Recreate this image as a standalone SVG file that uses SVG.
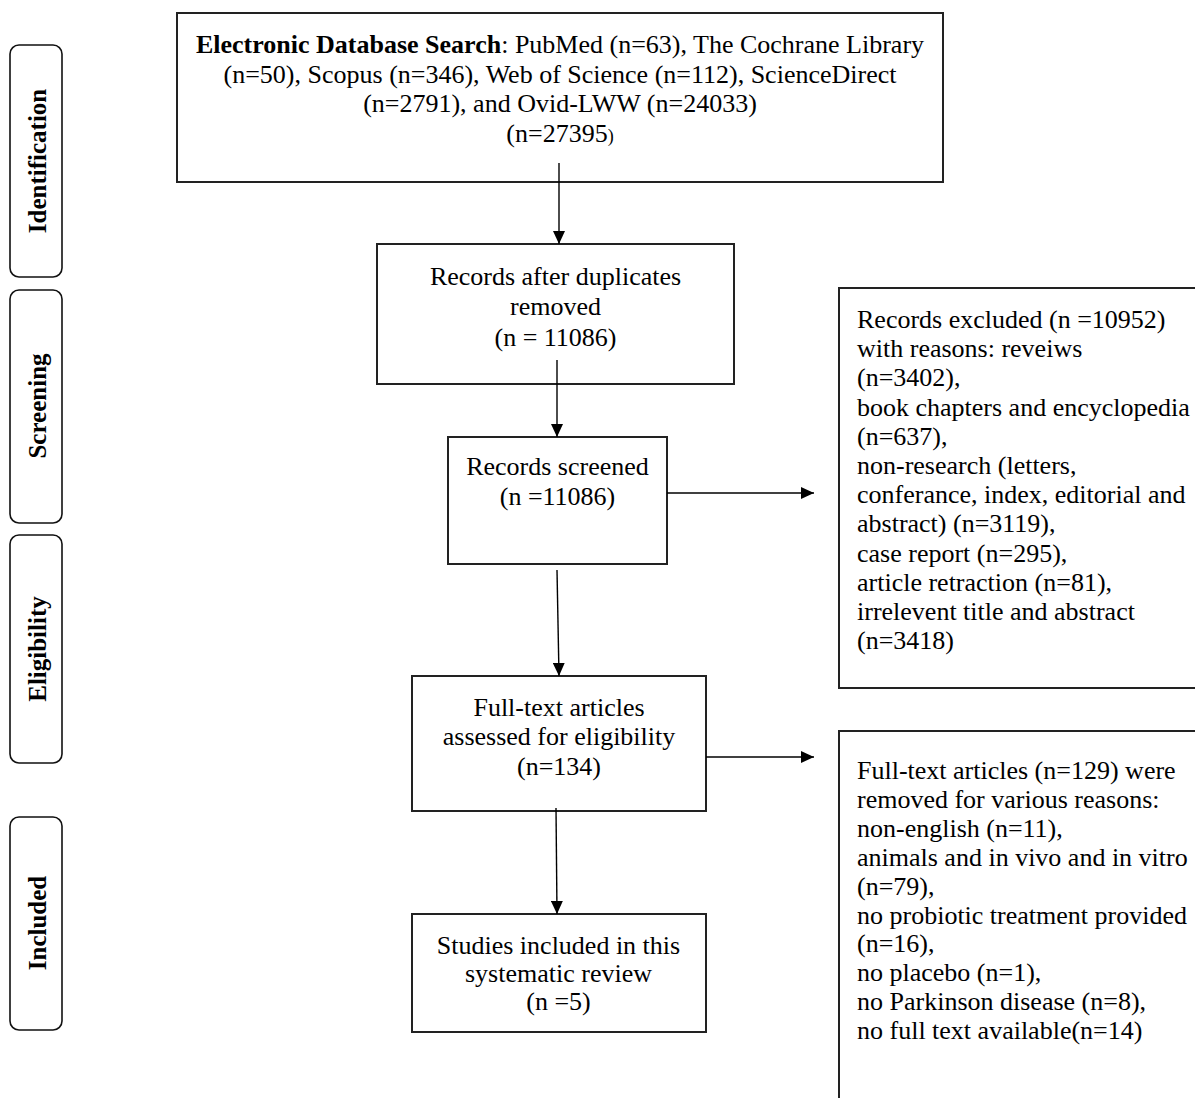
<svg xmlns="http://www.w3.org/2000/svg" width="1195" height="1098" viewBox="0 0 1195 1098">
<defs>
<style>
.box{fill:#fff;stroke:#222;stroke-width:2}
.stage{fill:#fff;stroke:#111;stroke-width:1.6}
.t{font-family:"Liberation Serif","Times New Roman",serif;font-size:26px;fill:#000}
.c{text-anchor:middle}
.lbl{font-family:"Liberation Serif","Times New Roman",serif;font-size:25px;font-weight:bold;fill:#000;text-anchor:middle}
.ln{stroke:#000;stroke-width:1.4;fill:none}
</style>
<marker id="ah" markerWidth="13" markerHeight="12" refX="13" refY="6" orient="auto" markerUnits="userSpaceOnUse">
<path d="M0,0 L13,6 L0,12 Z" fill="#000"/>
</marker>
</defs>
<rect width="1195" height="1098" fill="#fff"/>

<g id="stage-identification">
<rect class="stage" x="10" y="45" width="52" height="232" rx="9"/>
<text class="lbl" transform="translate(46,161) rotate(-90)">Identification</text>
</g>
<g id="stage-screening">
<rect class="stage" x="10" y="290" width="52" height="233" rx="9"/>
<text class="lbl" transform="translate(46,406) rotate(-90)">Screening</text>
</g>
<g id="stage-eligibility">
<rect class="stage" x="10" y="535" width="52" height="228" rx="9"/>
<text class="lbl" transform="translate(46,649) rotate(-90)">Eligibility</text>
</g>
<g id="stage-included">
<rect class="stage" x="10" y="817" width="52" height="213" rx="9"/>
<text class="lbl" transform="translate(46,923) rotate(-90)">Included</text>
</g>

<g id="node-search">
<rect class="box" x="177" y="13" width="766" height="169"/>
<text class="t c" x="560" y="53"><tspan font-weight="bold">Electronic Database Search</tspan>: PubMed (n=63), The Cochrane Library</text>
<text class="t c" x="560" y="82.5">(n=50), Scopus (n=346), Web of Science (n=112), ScienceDirect</text>
<text class="t c" x="560" y="112">(n=2791), and Ovid-LWW (n=24033)</text>
<text class="t c" x="560" y="141.5">(n=27395<tspan font-size="18px">)</tspan></text>
</g>

<g id="node-duplicates">
<rect class="box" x="377" y="244" width="357" height="140"/>
<text class="t c" x="555.5" y="285">Records after duplicates</text>
<text class="t c" x="555.5" y="315">removed</text>
<text class="t c" x="555.5" y="346">(n = 11086)</text>
</g>

<g id="node-screened">
<rect class="box" x="448" y="437" width="219" height="127"/>
<text class="t c" x="557.5" y="475">Records screened</text>
<text class="t c" x="557.5" y="505">(n =11086)</text>
</g>

<g id="node-excluded">
<rect class="box" x="839" y="288" width="370" height="400"/>
<text class="t" x="857" y="328">Records excluded (n =10952)</text>
<text class="t" x="857" y="357.2">with reasons: reveiws</text>
<text class="t" x="857" y="386.4">(n=3402),</text>
<text class="t" x="857" y="415.6">book chapters and encyclopedia</text>
<text class="t" x="857" y="444.8">(n=637),</text>
<text class="t" x="857" y="474">non-research (letters,</text>
<text class="t" x="857" y="503.2">conferance, index, editorial and</text>
<text class="t" x="857" y="532.4">abstract) (n=3119),</text>
<text class="t" x="857" y="561.6">case report (n=295),</text>
<text class="t" x="857" y="590.8">article retraction (n=81),</text>
<text class="t" x="857" y="620">irrelevent title and abstract</text>
<text class="t" x="857" y="649.2">(n=3418)</text>
</g>

<g id="node-fulltext">
<rect class="box" x="412" y="676" width="294" height="135"/>
<text class="t c" x="559" y="716">Full-text articles</text>
<text class="t c" x="559" y="745">assessed for eligibility</text>
<text class="t c" x="559" y="775">(n=134)</text>
</g>

<g id="node-removed">
<rect class="box" x="839" y="731" width="370" height="380"/>
<text class="t" x="857" y="779">Full-text articles (n=129) were</text>
<text class="t" x="857" y="807.9">removed for various reasons:</text>
<text class="t" x="857" y="836.8">non-english (n=11),</text>
<text class="t" x="857" y="865.7">animals and in vivo and in vitro</text>
<text class="t" x="857" y="894.6">(n=79),</text>
<text class="t" x="857" y="923.5">no probiotic treatment provided</text>
<text class="t" x="857" y="952.4">(n=16),</text>
<text class="t" x="857" y="981.3">no placebo (n=1),</text>
<text class="t" x="857" y="1010.2">no Parkinson disease (n=8),</text>
<text class="t" x="857" y="1039.1">no full text available(n=14)</text>
</g>

<g id="node-included">
<rect class="box" x="412" y="914" width="294" height="118"/>
<text class="t c" x="558.5" y="954">Studies included in this</text>
<text class="t c" x="558.5" y="982">systematic review</text>
<text class="t c" x="558.5" y="1010">(n =5)</text>
</g>

<g id="connectors">
<line class="ln" x1="559" y1="163" x2="559" y2="244" marker-end="url(#ah)"/>
<line class="ln" x1="557" y1="360" x2="557" y2="437" marker-end="url(#ah)"/>
<line class="ln" x1="557" y1="570" x2="559" y2="676" marker-end="url(#ah)"/>
<line class="ln" x1="556" y1="808" x2="557" y2="914" marker-end="url(#ah)"/>
<line class="ln" x1="667" y1="493" x2="814" y2="493" marker-end="url(#ah)"/>
<line class="ln" x1="706" y1="757" x2="814" y2="757" marker-end="url(#ah)"/>
</g>
</svg>
